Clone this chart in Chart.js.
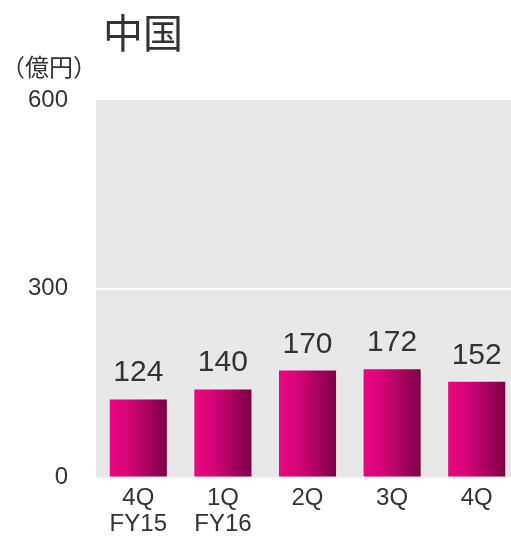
<!DOCTYPE html>
<html>
<head>
<meta charset="utf-8">
<script src="https://cdn.jsdelivr.net/npm/chart.js@4"></script>
<style>
  body { margin: 0; overflow: hidden; background: #fff; }
  #wrap { position: relative; width: 511px; height: 537px; overflow: hidden; }
  #mycanvas { position: absolute; left: 0; top: 0; }
</style>
</head>
<body>
<div id="wrap"><canvas id="mycanvas" width="519" height="537"></canvas></div>
<script>
var quarters = [["4Q", "FY15"], ["1Q", "FY16"], "2Q", "3Q", "4Q"];
var sales = [124, 140, 170, 172, 152];
var yTicks = [0, 300, 600];
var chartTitle = "中国";
var unitLabel = "（億円）";

var textColor = "#333333";
var latin = "'Liberation Sans', Arial, sans-serif";
var cjk = "'Noto Sans CJK JP', sans-serif";

// grey plot background, drawn under the grid
var plotBg = {
	id: "plotBg",
	beforeDraw: function(chart){
		var a = chart.chartArea, ctx = chart.ctx;
		ctx.save();
		ctx.fillStyle = "#e8e8e8";
		ctx.fillRect(a.left, a.top, a.right - a.left, a.bottom - a.top);
		ctx.restore();
	}
};

// title, unit and the numbers above each bar
var labels = {
	id: "labels",
	afterDatasetsDraw: function(chart){
		var ctx = chart.ctx;
		ctx.save();
		ctx.fillStyle = textColor;
		ctx.textBaseline = "alphabetic";
		ctx.textAlign = "left";
		ctx.font = "40px " + cjk;
		ctx.fillText(chartTitle, 103, 48);
		ctx.font = "24px " + cjk;
		ctx.fillText(unitLabel, 1, 76);

		ctx.textAlign = "center";
		ctx.font = "30px " + latin;
		chart.getDatasetMeta(0).data.forEach(function(bar, i){
			ctx.fillText(sales[i], bar.x, bar.y - 18);
		});
		ctx.restore();
	}
};

function barFill(c){
	var chart = c.chart;
	if (!chart.chartArea) return "#e0067f";
	var x = chart.scales.x.getPixelForValue(c.dataIndex);
	var half = (chart.scales.x.width / quarters.length) * 0.675 / 2;
	var g = chart.ctx.createLinearGradient(x - half, 0, x + half, 0);
	g.addColorStop(0, "#e8087f");
	g.addColorStop(0.3, "#d8057b");
	g.addColorStop(1, "#7c0045");
	return g;
}

var chart = new Chart(document.getElementById("mycanvas"), {
	type: "bar",
	data: {
		labels: quarters,
		datasets: [{
			data: sales,
			backgroundColor: barFill,
			borderWidth: 0,
			categoryPercentage: 1,
			barPercentage: 0.675
		}]
	},
	options: {
		responsive: false,
		animation: false,
		events: [],
		layout: { padding: { top: 100, left: 0, right: 0, bottom: 0 } },
		plugins: { legend: { display: false }, tooltip: { enabled: false } },
		scales: {
			x: {
				grid: { display: false, drawTicks: false },
				border: { display: false },
				ticks: {
					color: textColor,
					font: { family: latin, size: 24, lineHeight: 1.12 },
					padding: 7,
					maxRotation: 0,
					autoSkip: false
				},
				afterFit: function(s){ s.height = 59.5; }
			},
			y: {
				min: 0,
				max: 600,
				afterBuildTicks: function(s){
					s.ticks = yTicks.map(function(v){ return { value: v }; });
				},
				grid: {
					drawTicks: false,
					lineWidth: 2,
					color: function(c){ return c.tick && c.tick.value === 300 ? "#ffffff" : "rgba(0,0,0,0)"; }
				},
				border: { display: false },
				ticks: {
					color: textColor,
					font: { family: latin, size: 24 },
					padding: 28
				},
				afterFit: function(s){ s.width = 96; }
			}
		}
	},
	plugins: [plotBg, labels]
});
</script>
</body>
</html>
